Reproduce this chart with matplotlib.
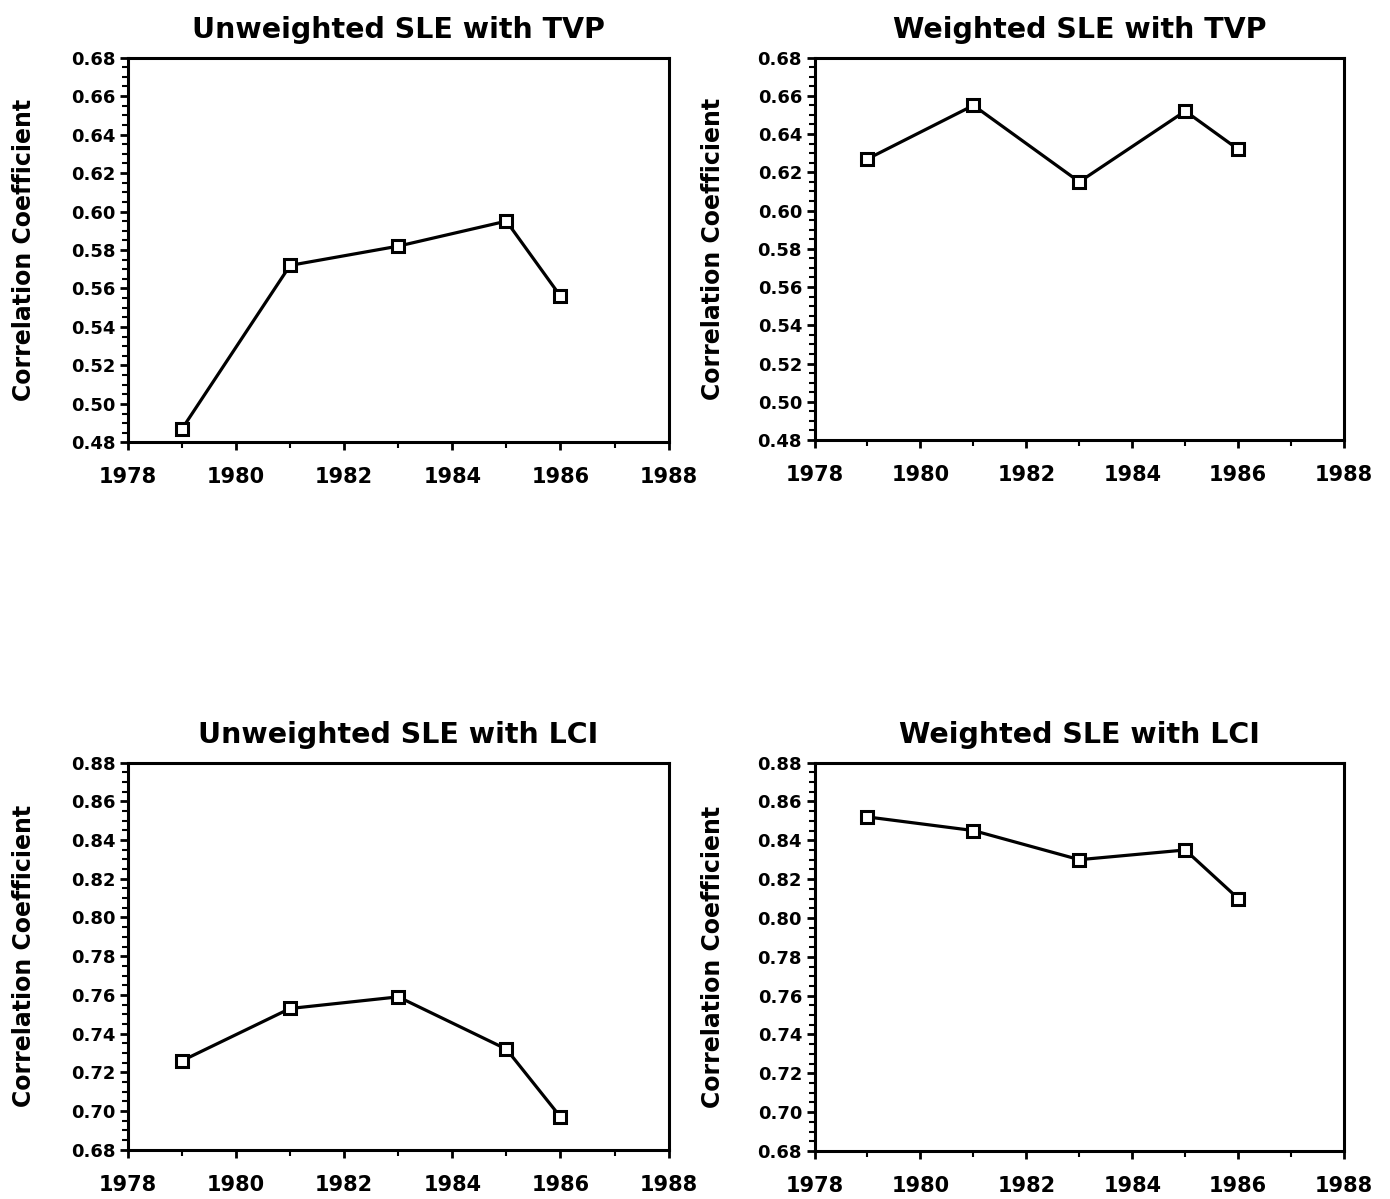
import matplotlib.pyplot as plt
from matplotlib.ticker import MultipleLocator, FormatStrFormatter

years = [1979, 1981, 1983, 1985, 1986]

unweighted_tvp = [0.487, 0.572, 0.582, 0.595, 0.556]
weighted_tvp = [0.627, 0.655, 0.615, 0.652, 0.632]
unweighted_lci = [0.726, 0.753, 0.759, 0.732, 0.697]
weighted_lci = [0.852, 0.845, 0.830, 0.835, 0.810]

titles = [
    "Unweighted SLE with TVP",
    "Weighted SLE with TVP",
    "Unweighted SLE with LCI",
    "Weighted SLE with LCI",
]
series = [unweighted_tvp, weighted_tvp, unweighted_lci, weighted_lci]
ylims = [(0.48, 0.68), (0.48, 0.68), (0.68, 0.88), (0.68, 0.88)]

plt.rcParams["font.family"] = ["DejaVu Sans"]
plt.rcParams["font.weight"] = "bold"

fig = plt.figure(figsize=(13.9, 11.99), dpi=100)

# [left, bottom, width, height] for each panel
boxes = [
    [0.092, 0.631, 0.389, 0.321],
    [0.586, 0.633, 0.381, 0.319],
    [0.092, 0.041, 0.389, 0.323],
    [0.586, 0.040, 0.381, 0.324],
]

for box, title, vals, (lo, hi) in zip(boxes, titles, series, ylims):
    ax = fig.add_axes(box)
    ax.plot(years, vals, color="black", lw=2.3, marker="s", ms=8,
            mfc="white", mec="black", mew=2.2)
    ax.set_xlim(1978, 1988)
    ax.set_ylim(lo, hi)
    ax.xaxis.set_major_locator(MultipleLocator(2))
    ax.xaxis.set_minor_locator(MultipleLocator(1))
    ax.yaxis.set_major_locator(MultipleLocator(0.02))
    ax.yaxis.set_minor_locator(MultipleLocator(0.005))
    ax.yaxis.set_major_formatter(FormatStrFormatter("%.2f"))
    ax.tick_params(axis="both", which="major", direction="out", length=6,
                   width=2)
    ax.tick_params(axis="both", which="minor", direction="out", length=4,
                   width=1.5)
    ax.tick_params(axis="y", labelsize=13, pad=3)
    ax.tick_params(axis="x", labelsize=15, pad=12)
    for lbl in ax.get_xticklabels() + ax.get_yticklabels():
        lbl.set_fontweight("bold")
    for sp in ax.spines.values():
        sp.set_linewidth(2.2)
    ax.set_title(title, fontsize=20.5, fontweight="bold", pad=14)
    ax.set_ylabel("Correlation Coefficient", fontsize=17,
                  fontweight="bold")
    ax.yaxis.set_label_coords(-0.17, 0.5)

fig.savefig("out.png", dpi=100, facecolor="white")
